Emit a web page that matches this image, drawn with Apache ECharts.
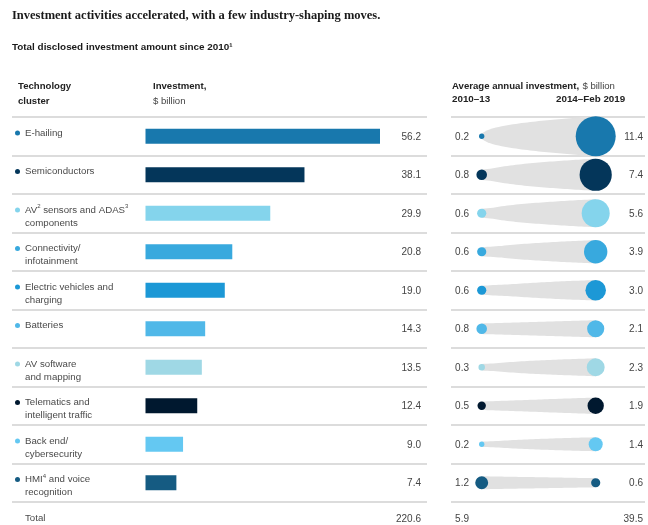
<!DOCTYPE html>
<html>
<head>
<meta charset="utf-8">
<script src="https://cdn.jsdelivr.net/npm/echarts@6/dist/echarts.min.js"></script>
<style>
  html, body { margin: 0; padding: 0; background: #fff; }
  #main { width: 648px; height: 525px; }
</style>
</head>
<body>
<div id="main"></div>
<script>
// 技术集群数据
var clusters = ['E-hailing', 'Semiconductors', 'AV{sup|2} sensors and ADAS{sup|3}\ncomponents', 'Connectivity/\ninfotainment',
  'Electric vehicles and\ncharging', 'Batteries', 'AV software\nand mapping', 'Telematics and\nintelligent traffic',
  'Back end/\ncybersecurity', 'HMI{sup|4} and voice\nrecognition'];
var invest = [56.2, 38.1, 29.9, 20.8, 19.0, 14.3, 13.5, 12.4, 9.0, 7.4];
var avgEarly = [0.2, 0.8, 0.6, 0.6, 0.6, 0.8, 0.3, 0.5, 0.2, 1.2];
var avgLate = [11.4, 7.4, 5.6, 3.9, 3.0, 2.1, 2.3, 1.9, 1.4, 0.6];
var periods = ['2010–13', '2014–Feb 2019'];
var totalLabel = 'Total';
var totalInvest = 220.6;
var totalAvg = [5.9, 39.5];
var colors = ['#1878ad', '#04365a', '#84d4ec', '#38a9de', '#1c98d6', '#50b8e8', '#9fd8e5', '#00182f', '#64c8f2', '#155b82'];

var rowNames = clusters.concat([totalLabel]);
var FONT = '"Liberation Sans", Arial, sans-serif';
var R = 5.92; // 圆半径系数 (面积比例)

var myChart = echarts.init(document.getElementById('main'));

// 左侧标签的富文本样式
var rich = {
  t: { fontSize: 9.7, color: '#4a4a4a', lineHeight: 13, fontFamily: FONT },
  sup: { fontSize: 6, color: '#4a4a4a', lineHeight: 13, fontFamily: FONT, verticalAlign: 'top', padding: [0, 0, 4, 0] },
  g: { width: 5 },
  s: { width: 10 },
  v: { fontSize: 10, color: '#444', lineHeight: 13, fontFamily: FONT },
  tot: { fontSize: 10, color: '#444', lineHeight: 8, fontFamily: FONT }
};
for (var i = 0; i < colors.length; i++) {
  rich['d' + i] = { width: 5, height: 5, borderRadius: 2.5, backgroundColor: colors[i], verticalAlign: 'middle' };
}

function labelLine(txt) {
  // 把 {sup|x} 以外的片段包成 {t|...}
  return txt.split(/(\{sup\|[^}]*\})/).filter(function (p) { return p; }).map(function (p) {
    return p.indexOf('{sup|') === 0 ? p : '{t|' + p + '}';
  }).join('');
}

function valueText(v, isTotal) {
  return (isTotal ? '{tot|' : '{v|') + v.toFixed(1) + '}';
}

function tableAxis(pos, grid, margin, fmt, split, padTop) {
  return {
    type: 'category', gridIndex: grid, position: pos, inverse: true, boundaryGap: false,
    data: rowNames,
    axisLine: { show: false }, axisTick: { show: false },
    splitLine: { show: split, interval: 0, lineStyle: { color: '#d0d0d0', width: 1.5 } },
    axisLabel: {
      interval: 0, margin: margin, align: pos === 'left' && grid === 0 ? 'left' : 'right',
      verticalAlign: 'top', padding: [padTop, 0, 0, 0],
      fontSize: 10, color: '#444', lineHeight: 13, fontFamily: FONT,
      formatter: fmt, rich: rich
    }
  };
}

var option = {
  animation: false,
  graphic: [
    { type: 'text', left: 12, top: 9, style: { text: 'Investment activities accelerated, with a few industry-shaping moves.', font: 'bold 12.5px "Liberation Serif", serif', fill: '#1a1a1a' } },
    { type: 'text', left: 12, top: 42, style: { text: 'Total disclosed investment amount since 2010¹', font: 'bold 9.9px ' + FONT, fill: '#1a1a1a' } },
    { type: 'text', left: 18, top: 79, style: { text: 'Technology\ncluster', font: 'bold 9.6px ' + FONT, lineHeight: 15, fill: '#222' } },
    { type: 'text', left: 153, top: 79, style: { text: '{b|Investment,}\n{n|$ billion}', lineHeight: 15,
        rich: { b: { font: 'bold 9.6px ' + FONT, fill: '#222', lineHeight: 15 }, n: { font: '9.6px ' + FONT, fill: '#444', lineHeight: 15 } } } },
    { type: 'text', left: 452, top: 79, style: { text: '{b|Average annual investment,} {n|$ billion}', lineHeight: 15,
        rich: { b: { font: 'bold 9.6px ' + FONT, fill: '#222' }, n: { font: '9.6px ' + FONT, fill: '#444' } } } },
    { type: 'text', left: 452, top: 94, style: { text: periods[0], font: 'bold 9.8px ' + FONT, fill: '#222' } },
    { type: 'text', left: 556, top: 94, style: { text: periods[1], font: 'bold 9.8px ' + FONT, fill: '#222' } }
  ],
  grid: [
    { left: 12, top: 117, width: 415, height: 385 },      // 左表格线
    { left: 451, top: 117, width: 194, height: 385 },     // 右表格线
    { left: 145.5, top: 117, width: 234.5, height: 385 }, // 条形
    { left: 481.7, top: 117, width: 114, height: 385 }    // 气泡
  ],
  xAxis: [
    { type: 'value', gridIndex: 0, min: 0, max: 1, show: false },
    { type: 'value', gridIndex: 1, min: 0, max: 1, show: false },
    { type: 'value', gridIndex: 2, min: 0, max: 56.2, show: false },
    { type: 'category', gridIndex: 3, data: periods, boundaryGap: false, show: false }
  ],
  yAxis: [
    tableAxis('left', 0, -3, function (value, idx) {
      if (idx === clusters.length) return '{s| }{t|' + value + '}';
      var parts = value.split('\n');
      var s = '{d' + idx + '| }{g| }' + labelLine(parts[0]);
      if (parts[1]) s += '\n{s| }' + labelLine(parts[1]);
      return s;
    }, true, 9.5),
    tableAxis('right', 0, -6, function (value, idx) {
      var tot = idx === clusters.length;
      return valueText(tot ? totalInvest : invest[idx], tot);
    }, false, 13.5),
    tableAxis('left', 1, -18, function (value, idx) {
      var tot = idx === clusters.length;
      return valueText(tot ? totalAvg[0] : avgEarly[idx], tot);
    }, true, 13.5),
    tableAxis('right', 1, -2, function (value, idx) {
      var tot = idx === clusters.length;
      return valueText(tot ? totalAvg[1] : avgLate[idx], tot);
    }, false, 13.5),
    { type: 'category', gridIndex: 2, inverse: true, data: clusters, show: false },
    { type: 'category', gridIndex: 3, inverse: true, data: clusters, show: false }
  ],
  series: [
    {
      type: 'bar', xAxisIndex: 2, yAxisIndex: 4, barWidth: 15,
      data: invest.map(function (v, i) { return { value: v, itemStyle: { color: colors[i] } }; })
    },
    {
      type: 'custom', xAxisIndex: 3, yAxisIndex: 5,
      data: clusters.map(function (c, i) { return [i, avgEarly[i], avgLate[i]]; }),
      encode: { y: 0 },
      renderItem: function (params, api) {
        var i = api.value(0);
        var a = api.coord([0, i]);
        var b = api.coord([1, i]);
        var ra = R * Math.sqrt(api.value(1));
        var rb = R * Math.sqrt(api.value(2));
        var hb = Math.max(rb, ra * 0.6);
        var top = [], bot = [];
        for (var k = 0; k <= 40; k++) {
          var t = k / 40;
          var x = a[0] + (b[0] - a[0]) * t;
          var h = Math.max(ra + (hb - ra) * t, hb * Math.pow(t, 0.4));
          top.push([x, a[1] - h]);
          bot.unshift([x, a[1] + h]);
        }
        var col = colors[params.dataIndex];
        return {
          type: 'group',
          children: [
            { type: 'polygon', shape: { points: top.concat(bot) }, style: { fill: '#e1e1e1' } },
            { type: 'circle', shape: { cx: a[0], cy: a[1], r: ra }, style: { fill: col } },
            { type: 'circle', shape: { cx: b[0], cy: b[1], r: rb }, style: { fill: col } }
          ]
        };
      }
    }
  ]
};

myChart.setOption(option);
</script>
</body>
</html>
